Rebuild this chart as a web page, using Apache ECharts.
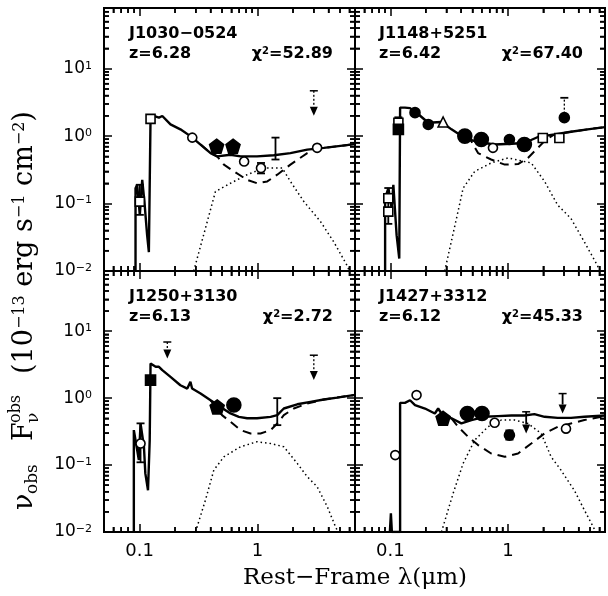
<!DOCTYPE html>
<html><head><meta charset="utf-8">
<script src="https://cdn.jsdelivr.net/npm/echarts@6/dist/echarts.min.js"></script>
<style>html,body{margin:0;padding:0;background:#fff}#c{width:608px;height:596px}</style>
</head><body><div id="c"></div>
<script>
// ---------------- data ----------------
const xRange = [0.05, 6.7];          // rest-frame wavelength (micron)
const yRange = [0.01, 79.4];         // nu F_nu (1e-13 erg/s/cm2)
const xMinorTicks = [0.06,0.07,0.08,0.09,0.2,0.3,0.4,0.5,0.6,0.7,0.8,0.9,2,3,4,5,6];
const yMinorTicks = [0.02,0.03,0.04,0.05,0.06,0.07,0.08,0.09,0.2,0.3,0.4,0.5,0.6,0.7,0.8,0.9,2,3,4,5,6,7,8,9,20,30,40,50,60,70];
const panelNames = ['J1030\u22120524', 'J1148+5251', 'J1250+3130', 'J1427+3312'];
const redshifts = ['6.28', '6.42', '6.13', '6.12'];
const chi2 = ['52.89', '67.40', '2.72', '45.33'];

// J1030-0524
const solid0 = [[0.0925,0.01],[0.0925,0.169],[0.0955,0.19],[0.1006,0.068],[0.1054,0.225],[0.110,0.107],[0.116,0.034],[0.120,0.019],[0.124,0.019],[0.124,1.88],[0.132,1.99],[0.146,1.88],[0.156,1.99],[0.183,1.49],[0.222,1.26],[0.270,1.0],[0.329,0.75],[0.400,0.56],[0.455,0.50],[0.590,0.53],[0.718,0.50],[0.99,0.50],[1.375,0.52],[1.90,0.56],[2.64,0.63],[3.65,0.67],[6.7,0.76]];
const dashed0 = [[0.33,0.75],[0.40,0.56],[0.455,0.50],[0.519,0.378],[0.63,0.30],[0.817,0.225],[0.99,0.20],[1.21,0.213],[1.47,0.268],[1.90,0.378],[2.64,0.56],[3.2,0.66],[3.65,0.67],[6.7,0.76]];
const dotted0 = [[0.288,0.01],[0.362,0.043],[0.44,0.151],[0.59,0.20],[0.817,0.268],[1.13,0.336],[1.62,0.336],[1.90,0.213],[2.47,0.107],[3.42,0.054],[4.43,0.027],[5.75,0.012],[6.0,0.01]];
const openCirc0 = [[0.28,0.95],[0.77,0.42],[1.07,0.336],[3.2,0.67]];
const openSq0 = [[0.1006,0.107],[0.124,1.8]];
const filledCirc0 = [];
const bigCirc0 = [];
const pent0 = [[0.45,0.71],[0.62,0.71]];
const filledSq0 = [];
const openTri0 = [];
const err0 = [[0.1006,0.068,0.19],[1.07,0.28,0.40],[1.42,0.45,0.95]];
const errDot0 = [];
const ulDot0 = [[3.0,4.7,2.0]];
const ulSolid0 = [];

// J1148+5251
const solid1 = [[0.0902,0.01],[0.0902,0.12],[0.0962,0.169],[0.1026,0.085],[0.106,0.19],[0.113,0.034],[0.119,0.0153],[0.121,0.0153],[0.121,2.65],[0.133,2.65],[0.147,2.6],[0.173,2.11],[0.210,1.58],[0.272,1.62],[0.331,1.26],[0.430,0.94],[0.522,0.84],[0.634,0.79],[0.771,0.75],[1.07,0.77],[1.38,0.79],[1.80,0.97],[2.49,1.06],[3.44,1.16],[4.76,1.26],[6.7,1.36]];
const dashed1 = [[0.43,0.94],[0.489,0.84],[0.557,0.56],[0.72,0.45],[0.94,0.378],[1.22,0.385],[1.48,0.475],[1.80,0.67],[2.11,0.89],[2.49,1.06],[3.44,1.16],[4.76,1.26],[6.7,1.36]];
const dotted1 = [[0.29,0.01],[0.365,0.060],[0.416,0.169],[0.522,0.30],[0.72,0.40],[1.0,0.475],[1.58,0.40],[2.05,0.213],[2.65,0.095],[3.44,0.060],[4.47,0.027],[5.79,0.012],[6.0,0.01]];
const openCirc1 = [[0.746,0.67]];
const openSq1 = [[0.096,0.076],[0.096,0.12],[0.117,1.58],[1.98,0.94],[2.74,0.94]];
const filledCirc1 = [[0.162,2.23],[0.21,1.49],[1.03,0.89],[3.02,1.88]];
const bigCirc1 = [[0.43,1.0],[0.594,0.89],[1.38,0.75]];
const pent1 = [];
const filledSq1 = [[0.117,1.26]];
const openTri1 = [[0.281,1.62]];
const err1 = [[0.096,0.05,0.17],[0.117,1.1,1.9]];
const errDot1 = [[3.02,1.88,3.7]];
const ulDot1 = [];
const ulSolid1 = [];

// J1250+3130
const solid2 = [[0.0895,0.01],[0.0895,0.333],[0.0925,0.333],[0.0987,0.119],[0.102,0.419],[0.109,0.188],[0.112,0.075],[0.118,0.042],[0.122,0.236],[0.124,0.236],[0.124,3.29],[0.137,2.94],[0.146,2.94],[0.156,2.62],[0.183,2.08],[0.222,1.56],[0.254,1.39],[0.270,1.75],[0.279,1.39],[0.329,1.17],[0.40,0.93],[0.486,0.74],[0.59,0.59],[0.695,0.526],[0.817,0.50],[0.99,0.50],[1.29,0.526],[1.47,0.557],[1.67,0.70],[2.17,0.81],[2.81,0.88],[3.65,0.955],[4.73,1.02],[6.7,1.12]];
const dashed2 = [[0.40,0.93],[0.50,0.557],[0.59,0.443],[0.718,0.333],[0.873,0.297],[1.06,0.297],[1.29,0.333],[1.47,0.419],[1.67,0.557],[2.03,0.70],[2.64,0.83],[3.65,0.955],[4.73,1.02],[6.7,1.12]];
const dotted2 = [[0.298,0.01],[0.362,0.030],[0.426,0.084],[0.519,0.133],[0.718,0.188],[0.99,0.223],[1.29,0.21],[1.67,0.188],[2.17,0.106],[2.64,0.067],[3.2,0.0475],[3.9,0.0239],[4.58,0.012],[4.8,0.01]];
const openCirc2 = [[0.102,0.21]];
const openSq2 = [];
const filledCirc2 = [];
const bigCirc2 = [[0.63,0.79]];
const pent2 = [[0.455,0.74]];
const filledSq2 = [[0.124,1.86]];
const openTri2 = [];
const err2 = [[0.102,0.11,0.42],[1.47,0.395,1.0]];
const errDot2 = [];
const ulDot2 = [[0.172,6.9,3.9],[3.0,4.38,1.86]];
const ulSolid2 = [];

// J1427+3312
const solid3 = [[0.099,0.01],[0.101,0.019],[0.103,0.01],[0.121,0.01],[0.121,0.85],[0.133,0.85],[0.147,0.93],[0.162,0.787],[0.197,0.70],[0.239,0.59],[0.255,0.70],[0.272,0.59],[0.331,0.50],[0.402,0.419],[0.489,0.47],[0.634,0.526],[0.823,0.538],[1.07,0.55],[1.38,0.55],[1.68,0.577],[2.05,0.526],[2.65,0.508],[3.44,0.508],[4.47,0.526],[6.7,0.55]];
const dashed3 = [[0.331,0.50],[0.377,0.373],[0.458,0.265],[0.557,0.199],[0.72,0.149],[0.94,0.133],[1.22,0.149],[1.58,0.21],[2.05,0.297],[2.65,0.373],[3.44,0.419],[4.47,0.47],[6.7,0.54]];
const dotted3 = [[0.272,0.01],[0.342,0.0378],[0.416,0.106],[0.522,0.236],[0.677,0.373],[0.877,0.47],[1.14,0.47],[1.48,0.419],[1.92,0.297],[2.33,0.133],[2.83,0.084],[3.67,0.042],[4.47,0.0213],[5.6,0.01]];
const openCirc3 = [[0.110,0.141],[0.167,1.11],[0.771,0.428],[3.12,0.35]];
const openSq3 = [];
const filledCirc3 = [[1.03,0.28]];
const bigCirc3 = [[0.452,0.59],[0.602,0.59]];
const pent3 = [[0.281,0.50]];
const filledSq3 = [];
const openTri3 = [];
const err3 = [[1.03,0.24,0.33]];
const errDot3 = [];
const ulDot3 = [];
const ulSolid3 = [[1.43,0.625,0.297],[2.92,1.17,0.59]];

// ---------------- build ----------------
const panels = [
 {solid:solid0,dashed:dashed0,dotted:dotted0,openCirc:openCirc0,openSq:openSq0,filledCirc:filledCirc0,bigCirc:bigCirc0,pent:pent0,filledSq:filledSq0,openTri:openTri0,err:err0,errDot:errDot0,ulDot:ulDot0,ulSolid:ulSolid0},
 {solid:solid1,dashed:dashed1,dotted:dotted1,openCirc:openCirc1,openSq:openSq1,filledCirc:filledCirc1,bigCirc:bigCirc1,pent:pent1,filledSq:filledSq1,openTri:openTri1,err:err1,errDot:errDot1,ulDot:ulDot1,ulSolid:ulSolid1},
 {solid:solid2,dashed:dashed2,dotted:dotted2,openCirc:openCirc2,openSq:openSq2,filledCirc:filledCirc2,bigCirc:bigCirc2,pent:pent2,filledSq:filledSq2,openTri:openTri2,err:err2,errDot:errDot2,ulDot:ulDot2,ulSolid:ulSolid2},
 {solid:solid3,dashed:dashed3,dotted:dotted3,openCirc:openCirc3,openSq:openSq3,filledCirc:filledCirc3,bigCirc:bigCirc3,pent:pent3,filledSq:filledSq3,openTri:openTri3,err:err3,errDot:errDot3,ulDot:ulDot3,ulSolid:ulSolid3}
];

const grids = [
 {left:104, top:8, width:251, height:263},
 {left:355, top:8, width:250, height:263},
 {left:104, top:271, width:251, height:261},
 {left:355, top:271, width:250, height:261}
];

const SANS = 'DejaVu Sans';
function isDecade(v){ const e = Math.log10(v); return Math.abs(e - Math.round(e)) < 1e-6; }
function xFmt(v){ if(!isDecade(v)) return ''; const e = Math.round(Math.log10(v)); return e < 0 ? String(Math.pow(10,e).toFixed(-e)) : String(Math.pow(10,e)); }
function yFmt(v){ if(!isDecade(v)) return ''; const e = Math.round(Math.log10(v)); return '10{s|' + (e < 0 ? '\u2212' + (-e) : e) + '}'; }

function axisCommon(){
  return {
    axisLine:{show:true, onZero:false, lineStyle:{color:'#000', width:2}},
    axisTick:{show:true, inside:true, length:8, lineStyle:{color:'#000', width:1.5}},
    minorTick:{show:true, splitNumber:9, length:5, lineStyle:{color:'#000', width:1.5}},
    splitLine:{show:false}, minorSplitLine:{show:false}
  };
}
const xAxes = [], yAxes = [];
for (let k = 0; k < 2; k++) {
  for (let i = 0; i < 4; i++) {
    const showX = (k === 0 && i >= 2);
    xAxes.push(Object.assign(axisCommon(), {
      type:'log', gridIndex:i, position: k === 0 ? 'bottom' : 'top',
      min:xRange[0], max:xRange[1],
      axisLabel:{show:showX, formatter:xFmt, fontFamily:SANS, fontSize:18, color:'#000', margin:10, showMinLabel:false, showMaxLabel:false}
    }));
    const showY = (k === 0 && (i === 0 || i === 2));
    yAxes.push(Object.assign(axisCommon(), {
      type:'log', gridIndex:i, position: k === 0 ? 'left' : 'right',
      min:yRange[0], max:yRange[1],
      axisLabel:{show:showY, formatter:yFmt, fontFamily:SANS, fontSize:17, color:'#000', margin:12, showMaxLabel:false,
        rich:{s:{fontFamily:SANS, fontSize:11, color:'#000', verticalAlign:'top', lineHeight:12}}}
    }));
  }
}

function errRender(dotted){
  return function(params, api){
    const x = api.value(0), lo = api.value(1), hi = api.value(2);
    const a = api.coord([x, lo]), b = api.coord([x, hi]);
    const w = 4;
    const st = {stroke:'#000', lineWidth: dotted ? 1.3 : 1.8, lineDash: dotted ? [2,2] : null};
    const cap = {stroke:'#000', lineWidth:1.8};
    const ch = [
      {type:'line', shape:{x1:a[0], y1:a[1], x2:b[0], y2:b[1]}, style:st},
      {type:'line', shape:{x1:b[0]-w, y1:b[1], x2:b[0]+w, y2:b[1]}, style:cap}
    ];
    if (!dotted) ch.push({type:'line', shape:{x1:a[0]-w, y1:a[1], x2:a[0]+w, y2:a[1]}, style:cap});
    return {type:'group', children:ch};
  };
}
function ulRender(dotted){
  return function(params, api){
    const x = api.value(0), top = api.value(1), tip = api.value(2);
    const a = api.coord([x, top]), b = api.coord([x, tip]);
    const h = 9, w = 4;
    return {type:'group', children:[
      {type:'line', shape:{x1:a[0], y1:a[1], x2:b[0], y2:b[1]-h}, style:{stroke:'#000', lineWidth: dotted ? 1.3 : 1.8, lineDash: dotted ? [2,2] : null}},
      {type:'line', shape:{x1:a[0]-w, y1:a[1], x2:a[0]+w, y2:a[1]}, style:{stroke:'#000', lineWidth:1.5}},
      {type:'polygon', shape:{points:[[b[0]-w, b[1]-h],[b[0]+w, b[1]-h],[b[0], b[1]]]}, style:{fill:'#000'}}
    ]};
  };
}

const PENT = 'path://M0,-1 L0.951,-0.309 L0.588,0.809 L-0.588,0.809 L-0.951,-0.309 Z';
const series = [];
panels.forEach((p, i) => {
  const ax = {xAxisIndex:i, yAxisIndex:i};
  // minor ticks drawn as thin rect symbols sitting on the frame edges (inside)
  const tk = (data, size, offset) => Object.assign({type:'scatter', data, symbol:'rect', symbolSize:size, symbolOffset:offset,
      clip:false, silent:true, z:5, itemStyle:{color:'#000', opacity:1}}, ax);
  series.push(tk(xMinorTicks.map(v => [v, yRange[0]]), [1.5, 5], [0, -2.5]));
  series.push(tk(xMinorTicks.map(v => [v, yRange[1]]), [1.5, 5], [0, 2.5]));
  series.push(tk(yMinorTicks.map(v => [xRange[0], v]), [5, 1.5], [2.5, 0]));
  series.push(tk(yMinorTicks.map(v => [xRange[1], v]), [5, 1.5], [-2.5, 0]));
  series.push(Object.assign({type:'line', data:p.dotted, symbol:'none', z:2, lineStyle:{color:'#000', width:1.5, type:[1.5,3]}}, ax));
  series.push(Object.assign({type:'line', data:p.dashed, symbol:'none', z:3, lineStyle:{color:'#000', width:2, type:[9,6]}}, ax));
  series.push(Object.assign({type:'line', data:p.solid, symbol:'none', z:4, lineStyle:{color:'#000', width:2.4}}, ax));
  series.push(Object.assign({type:'custom', data:p.err, renderItem:errRender(false), encode:{x:0, y:[1,2]}, z:5}, ax));
  series.push(Object.assign({type:'custom', data:p.errDot, renderItem:errRender(true), encode:{x:0, y:[1,2]}, z:5}, ax));
  series.push(Object.assign({type:'custom', data:p.ulDot, renderItem:ulRender(true), encode:{x:0, y:[1,2]}, z:5}, ax));
  series.push(Object.assign({type:'custom', data:p.ulSolid, renderItem:ulRender(false), encode:{x:0, y:[1,2]}, z:5}, ax));
  const sc = (data, symbol, size, fill) => Object.assign({type:'scatter', data, symbol, symbolSize:size, z:6,
      itemStyle:{color: fill ? '#000' : '#fff', borderColor:'#000', borderWidth:1.6, opacity:1}}, ax);
  series.push(sc(p.openCirc, 'circle', 9, false));
  series.push(sc(p.openSq, 'rect', 9, false));
  series.push(sc(p.openTri, 'triangle', 10, false));
  series.push(sc(p.filledCirc, 'circle', 10, true));
  series.push(sc(p.bigCirc, 'circle', 14, true));
  series.push(sc(p.pent, PENT, 14, true));
  series.push(sc(p.filledSq, 'rect', 10, true));
});

// panel annotations
const graphics = [];
grids.forEach((g, i) => {
  const lx = g.left + (i % 2 === 0 ? 25 : 24);
  graphics.push({type:'text', x:lx, y:g.top + 26, style:{text:panelNames[i], font:'bold 16px "DejaVu Sans"', fill:'#000', verticalAlign:'middle', textVerticalAlign:'middle'}});
  graphics.push({type:'text', x:lx, y:g.top + 46, style:{text:'z=' + redshifts[i], font:'bold 16px "DejaVu Sans"', fill:'#000', verticalAlign:'middle', textVerticalAlign:'middle'}});
  graphics.push({type:'text', x:g.left + g.width - 22, y:g.top + 46, style:{text:'\u03c7{s|2}=' + chi2[i], font:'bold 16px "DejaVu Sans"', fill:'#000', align:'right', textAlign:'right', verticalAlign:'middle', textVerticalAlign:'middle',
     rich:{s:{font:'bold 10px "DejaVu Sans"', fill:'#000', verticalAlign:'top', lineHeight:10}}}});
});
// x-axis title
graphics.push({type:'text', x:355, y:578, style:{text:'Rest\u2212Frame \u03bb(\u03bcm)', font:'23px "DejaVu Serif"', fill:'#000', align:'center', textAlign:'center', verticalAlign:'middle', textVerticalAlign:'middle'}});
// y-axis title (rotated group, reads bottom to top)
graphics.push({type:'group', x:25, y:310, rotation:Math.PI/2, children:[
  {type:'text', x:-200, y:0, style:{text:'\u03bd', font:'27px "DejaVu Serif"', fill:'#000', verticalAlign:'middle', textVerticalAlign:'middle'}},
  {type:'text', x:-184, y:8, style:{text:'obs', font:'17px "DejaVu Serif"', fill:'#000', verticalAlign:'middle', textVerticalAlign:'middle'}},
  {type:'text', x:-131, y:0, style:{text:'F', font:'27px "DejaVu Serif"', fill:'#000', verticalAlign:'middle', textVerticalAlign:'middle'}},
  {type:'text', x:-113, y:-9, style:{text:'obs', font:'16px "DejaVu Serif"', fill:'#000', verticalAlign:'middle', textVerticalAlign:'middle'}},
  {type:'text', x:-113, y:9, style:{text:'\u03bd', font:'17px "DejaVu Serif"', fill:'#000', verticalAlign:'middle', textVerticalAlign:'middle'}},
  {type:'text', x:-64, y:0, style:{text:'(10{sup|\u221213} erg s{sup|\u22121} cm{sup|\u22122})', font:'27px "DejaVu Serif"', fill:'#000', verticalAlign:'middle', textVerticalAlign:'middle',
     rich:{sup:{font:'16px "DejaVu Serif"', fill:'#000', verticalAlign:'top', lineHeight:16}}}}
]});

const chart = echarts.init(document.getElementById('c'));
chart.setOption({
  animation:false,
  backgroundColor:'#fff',
  grid: grids.map(g => Object.assign({show:true, borderColor:'#000', borderWidth:2, containLabel:false}, g)),
  xAxis: xAxes,
  yAxis: yAxes,
  series: series,
  graphic: graphics
});
</script></body></html>
